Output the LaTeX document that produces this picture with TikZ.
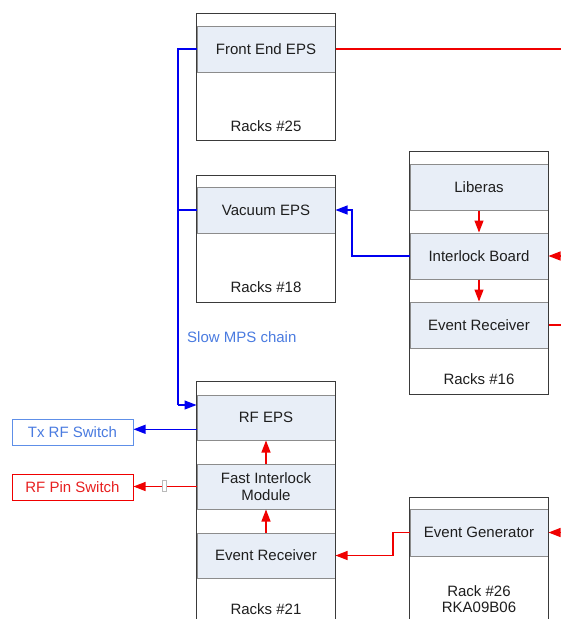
\documentclass[tikz,border=0pt]{standalone}
\usepackage{fontspec}
\setmainfont{Liberation Sans}
\usetikzlibrary{arrows.meta}
\definecolor{secfill}{HTML}{E8EEF7}
\definecolor{frameclr}{HTML}{3A3A3A}
\definecolor{sepclr}{HTML}{8C8C8C}
\definecolor{txtclr}{HTML}{1E1E1E}
\definecolor{busblue}{HTML}{0000F0}
\definecolor{lblblue}{HTML}{4A7BE0}
\definecolor{boxblue}{HTML}{5E8FE8}
\definecolor{sigred}{HTML}{F00000}
\definecolor{lblred}{HTML}{E82020}
\tikzset{
  rackbox/.style={fill=white, draw=none, minimum width=138pt, inner sep=0pt},
  rackframe/.style={draw=frameclr, line width=1.3pt},
  section/.style={fill=secfill, draw=sepclr, line width=1pt, minimum width=138pt,
    minimum height=46pt, inner sep=0pt, text=txtclr, align=center},
  racklabel/.style={text=txtclr, inner sep=0pt, align=center},
  blueline/.style={draw=busblue, line width=1.2pt},
  redline/.style={draw=sigred, line width=1.2pt},
  extbox/.style={draw, line width=1pt, fill=white, minimum width=121pt,
    minimum height=26pt, inner sep=0pt},
  >={Triangle[length=12pt,width=9pt]}
}
\begin{document}
\begin{tikzpicture}[x=1pt,y=-1pt,font=\fontsize{15}{17.5}\selectfont]
\useasboundingbox (0,0) rectangle (561,619);
\clip (0,0) rectangle (561,619);

% rack bodies
\node[rackbox, minimum height=126pt] (feRack)  at (266,77)  {};
\node[rackbox, minimum height=126pt] (vacRack) at (266,239) {};
\node[rackbox, minimum height=242pt] (libRack) at (479,273) {};
\node[rackbox, minimum height=250pt] (rfRack)  at (266,507) {};
\node[rackbox, minimum height=134pt] (egRack)  at (479,565) {};

% shaded sections
\node[section] (fe)    at (266,49)    {Front End EPS};
\node[section] (vac)   at (266,210)   {Vacuum EPS};
\node[section] (lib)   at (479,187)   {Liberas};
\node[section] (ilk)   at (479,256)   {Interlock Board};
\node[section] (er16)  at (479,325)   {Event Receiver};
\node[section, minimum height=45pt] (rfeps) at (266,417.5) {RF EPS};
\node[section, minimum height=45pt] (fim)   at (266,486.5) {Fast Interlock\\Module};
\node[section, minimum height=45pt] (er21)  at (266,555.5) {Event Receiver};
\node[section, minimum height=47pt] (eg)    at (479,532.5) {Event Generator};

% rack labels
\node[racklabel] (fePos)  at (266,126) {Racks \#25};
\node[racklabel] (vacPos) at (266,287) {Racks \#18};
\node[racklabel] (libPos) at (479,379) {Racks \#16};
\node[racklabel] (rfPos)  at (266,609) {Racks \#21};
\node[racklabel] (egPos)  at (479,599.5) {Rack \#26\\[-1.5pt]RKA09B06};

% rack outlines on top
\foreach \r in {feRack,vacRack,libRack,rfRack,egRack}
  \draw[rackframe] (\r.north west) rectangle (\r.south east);

% external switches
\node[extbox, draw=boxblue, text=lblblue] (tx)  at (72.5,432.5) {Tx RF Switch};
\node[extbox, draw=sigred, text=lblred]   (pin) at (72.5,487.5) {RF Pin Switch};

% slow MPS chain
\coordinate (busTop) at (178,49);
\coordinate (busBot) at (178,405);
\draw[blueline] (fe.west) -- (busTop) -- (busBot);
\draw[blueline] (vac.west) -- (vac.west -| busTop);
\draw[blueline,->] (busBot) -- (busBot -| rfeps.west);
\node[text=lblblue, anchor=west, inner sep=0pt] (slowLbl) at (187,337) {Slow MPS chain};

\coordinate (vacJog) at (352,210);
\draw[blueline,->] (ilk.west) -| (vacJog) -- (vac.east);

\coordinate (txTap) at (197,429.3);
\draw[blueline,->] (txTap) -- (txTap -| tx.east);

% interlock signals
\coordinate (feOut) at (561,49);
\draw[redline] (fe.east) -- (feOut);

\draw[redline,->] (lib.south) -- (ilk.north);
\draw[redline,->] (ilk.south) -- (er16.north);
\coordinate (ilkIn) at (561,256);
\draw[redline,->] (ilkIn) -- (ilk.east);
\coordinate (er16Out) at (561,325);
\draw[redline] (er16.east) -- (er16Out);

\draw[redline,->] (fim.north) -- (rfeps.south);
\draw[redline,->] (er21.north) -- (fim.south);

\coordinate (egIn) at (561,532.5);
\draw[redline,->] (egIn) -- (eg.east);
\coordinate (egJog) at (393,532.5);
\draw[redline,->] (eg.west) -- (egJog) |- (er21.east);

\draw[redline,->] (fim.west) -- (fim.west -| pin.east);
\node[draw=sepclr!60, fill=white, line width=0.6pt, minimum width=3.5pt,
      minimum height=11pt, inner sep=0pt] (pinHandle) at (164.5,486) {};
\end{tikzpicture}
\end{document}
